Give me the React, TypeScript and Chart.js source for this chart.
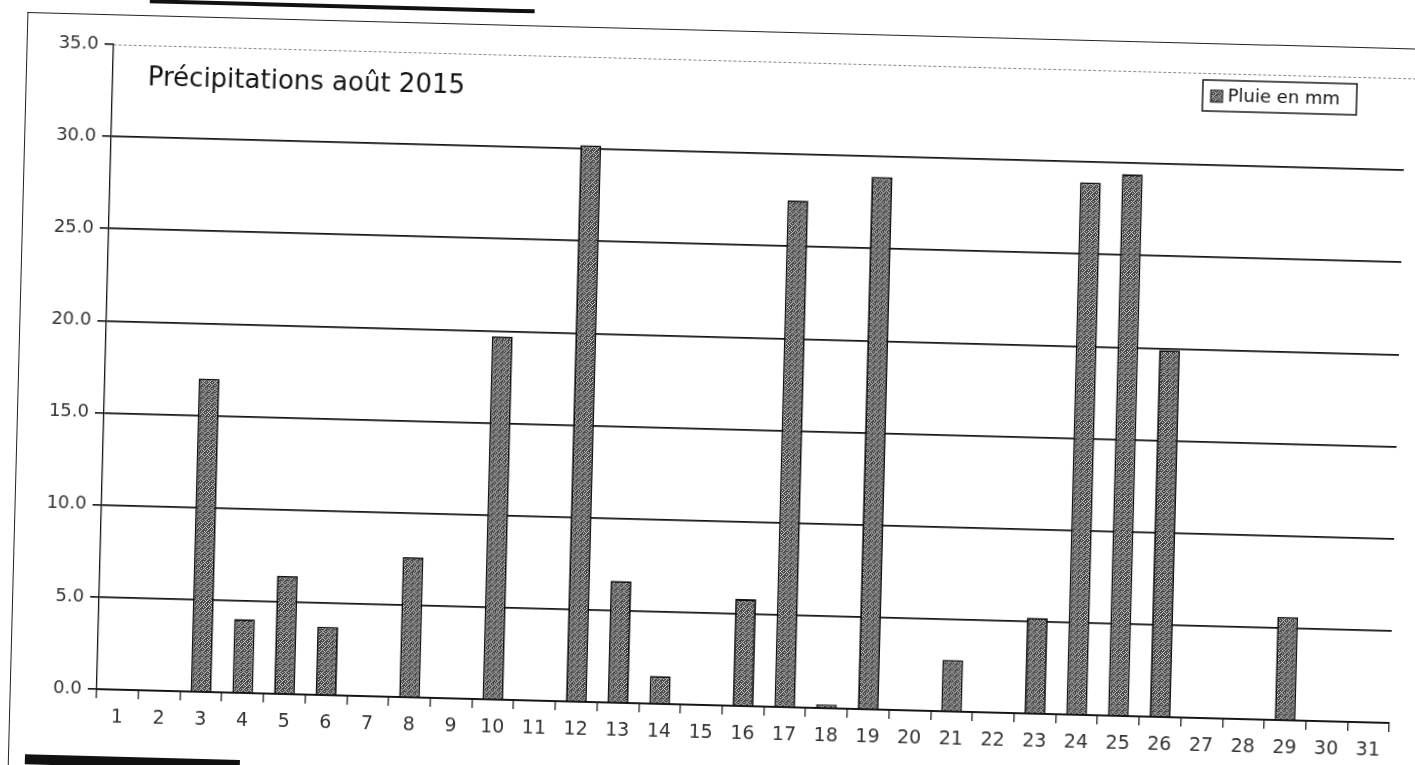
import React, { useEffect, useRef } from "react";
import { Chart, registerables } from "chart.js";

Chart.register(...registerables);

// ---- data ----
const days = [
  "1", "2", "3", "4", "5", "6", "7", "8", "9", "10",
  "11", "12", "13", "14", "15", "16", "17", "18", "19", "20",
  "21", "22", "23", "24", "25", "26", "27", "28", "29", "30", "31",
];
const rainMm = [
  0, 0, 17.0, 4.0, 6.4, 3.7, 0, 7.6, 0, 19.7,
  0, 30.2, 6.6, 1.5, 0, 5.8, 27.5, 0.2, 28.9, 0,
  2.8, 0, 5.2, 28.9, 29.4, 19.9, 0, 0, 5.6, 0, 0,
];
const yTickLabels = ["0.0", "5.0", "10.0", "15.0", "20.0", "25.0", "30.0", "35.0"];
const chartTitle = "Précipitations août 2015";
const seriesLabel = "Pluie en mm";

const FONT = "'DejaVu Sans', Verdana, sans-serif";

function makePattern(ctx: CanvasRenderingContext2D): CanvasPattern | string {
  const c = document.createElement("canvas");
  c.width = 6;
  c.height = 6;
  const g = c.getContext("2d");
  if (!g) return "#555";
  g.fillStyle = "#444444";
  g.fillRect(0, 0, 6, 6);
  g.fillStyle = "#d6d6d6";
  const dots = [
    [0, 0], [3, 1], [1, 3], [4, 4], [5, 2], [2, 5], [4, 0], [0, 4], [2, 2], [5, 5], [1, 1],
  ];
  dots.forEach(([x, y]) => g.fillRect(x, y, 1, 1));
  return ctx.createPattern(c, "repeat") || "#555";
}

export default function App() {
  const canvasRef = useRef<HTMLCanvasElement | null>(null);

  useEffect(() => {
    const canvas = canvasRef.current;
    if (!canvas) return;
    const ctx = canvas.getContext("2d");
    if (!ctx) return;
    const pattern = makePattern(ctx);

    const decor = {
      id: "decor",
      afterDraw(chart: any) {
        const { ctx: c, chartArea } = chart;
        const { left, right, top } = chartArea;
        c.save();
        // dashed top border of the plot
        c.strokeStyle = "#8a8a8a";
        c.lineWidth = 1;
        c.setLineDash([3, 2]);
        c.beginPath();
        c.moveTo(left, top + 0.5);
        c.lineTo(right + 20, top + 0.5);
        c.stroke();
        c.setLineDash([]);

        // title inside plot
        c.fillStyle = "#151515";
        c.font = `26px ${FONT}`;
        c.textBaseline = "middle";
        c.textAlign = "left";
        c.fillText(chartTitle, left + 35, top + 33);

        // legend box
        const bw = 154;
        const bh = 31;
        const bx = right - 203;
        const by = top + 7;
        c.fillStyle = "#ffffff";
        c.fillRect(bx, by, bw, bh);
        c.strokeStyle = "#1a1a1a";
        c.lineWidth = 1.5;
        c.strokeRect(bx, by, bw, bh);
        c.fillStyle = pattern as any;
        c.fillRect(bx + 8, by + 10, 12, 12);
        c.lineWidth = 1;
        c.strokeRect(bx + 8, by + 10, 12, 12);
        c.fillStyle = "#151515";
        c.font = `18px ${FONT}`;
        c.fillText(seriesLabel, bx + 25, by + bh / 2 + 1);
        c.restore();
      },
    };

    const chart = new Chart(canvas, {
      type: "bar",
      data: {
        labels: days,
        datasets: [
          {
            label: seriesLabel,
            data: rainMm,
            backgroundColor: pattern as any,
            borderColor: "#111111",
            borderWidth: 1.8,
            barPercentage: 0.5,
            categoryPercentage: 1,
          },
        ],
      },
      options: {
        animation: false,
        responsive: false,
        events: [],
        layout: { padding: { left: 30, top: 60, right: 17, bottom: 15 } },
        plugins: {
          legend: { display: false },
          tooltip: { enabled: false },
          title: { display: false },
        },
        scales: {
          x: {
            grid: {
              display: true,
              drawOnChartArea: false,
              drawTicks: true,
              tickLength: 9,
              color: "#222222",
              lineWidth: 1.3,
              offset: true,
            },
            border: { display: true, color: "#111111", width: 1.8 },
            ticks: {
              color: "#333333",
              font: { family: FONT, size: 19 },
              padding: 8,
              maxRotation: 0,
              autoSkip: false,
            },
            afterFit: (s: any) => {
              s.height = 45;
            },
          },
          y: {
            min: 0,
            max: 35,
            ticks: {
              stepSize: 5,
              color: "#333333",
              font: { family: FONT, size: 18 },
              padding: 6,
              callback: (_v: any, i: number) => yTickLabels[i],
            },
            grid: {
              color: (c: any) =>
                c.tick && c.tick.value === 35 ? "rgba(0,0,0,0)" : "#141414",
              tickColor: "#222222",
              lineWidth: 1.7,
              tickLength: 9,
            },
            border: { display: true, color: "#111111", width: 1.3 },
            afterFit: (s: any) => {
              s.width = 75;
            },
          },
        },
      },
      plugins: [decor],
    });

    return () => {
      chart.destroy();
    };
  }, []);

  return (
    <div
      style={{
        position: "fixed",
        left: 0,
        top: 0,
        width: 1415,
        height: 765,
        overflow: "hidden",
        background: "#ffffff",
      }}
    >
      <div
        style={{
          position: "absolute",
          left: 0,
          top: 0,
          width: 1415,
          height: 765,
          transform: "rotate(1.5deg)",
          transformOrigin: "707px 382px",
        }}
      >
        {/* outer frame of the printed chart */}
        <div
          style={{
            position: "absolute",
            left: 18,
            top: 30,
            width: 1500,
            height: 800,
            borderLeft: "1.5px solid #222",
            borderTop: "1.5px solid #222",
          }}
        />
        <div
          style={{
            position: "absolute",
            left: 140,
            top: 14,
            width: 385,
            height: 4,
            background: "#111",
          }}
        />
        <div
          style={{
            position: "absolute",
            left: 35,
            top: 772,
            width: 215,
            height: 10,
            background: "#111",
          }}
        />
        <canvas
          ref={canvasRef}
          width={1415}
          height={765}
          style={{ position: "absolute", left: 0, top: 0, display: "block" }}
        />
      </div>
    </div>
  );
}
